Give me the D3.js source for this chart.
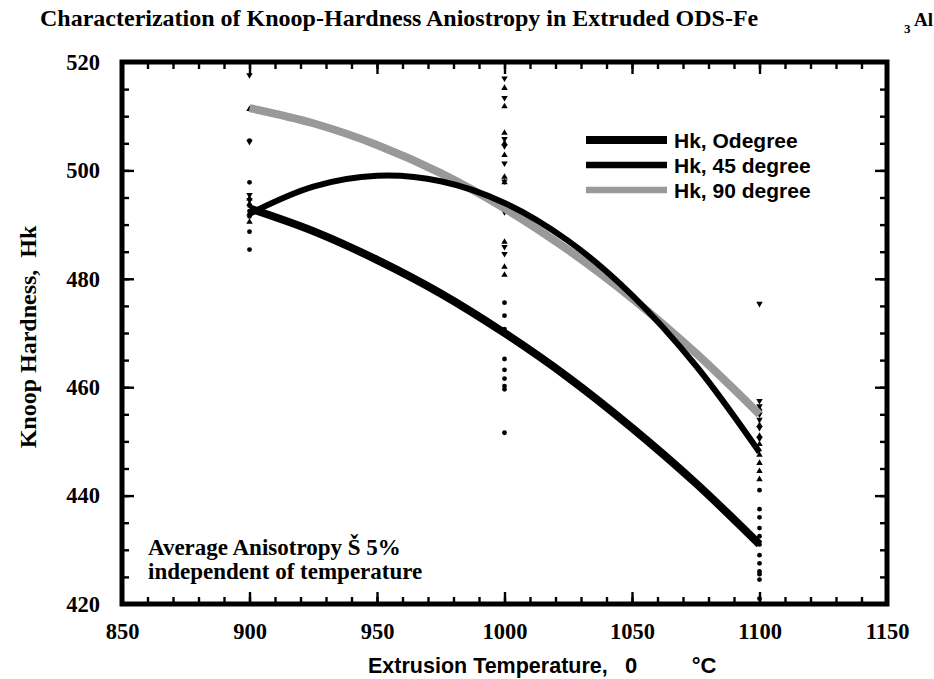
<!DOCTYPE html>
<html><head><meta charset="utf-8">
<script src="https://cdn.jsdelivr.net/npm/d3@7/dist/d3.min.js"></script>
<style>body{margin:0;background:#fff}</style></head>
<body><svg id="c" width="934" height="679"></svg>
<script>
// ---------------- data ----------------
const xTickValues = [850, 900, 950, 1000, 1050, 1100, 1150];
const yTickValues = [420, 440, 460, 480, 500, 520];
const seriesNames = ["Hk, Odegree", "Hk, 45 degree", "Hk, 90 degree"];
// fitted curves
const curveTemps = [900, 925, 950, 975, 1000, 1025, 1050, 1075, 1100];
const hk0Curve  = [493, 488.8, 483.5, 477.3, 470, 461.8, 452.5, 442.3, 431];
const hk45Curve = [492, 497, 499, 498, 494, 487, 477, 464, 448];
const hk90Curve = [511.5, 508.7, 504.7, 499.5, 493, 485.3, 476.4, 466.3, 455];
// individual measurements (markers)
const hk0At900  = [505.5, 497.8, 493.5, 492.5, 491.5, 488.7, 485.4];
const hk0At1000 = [475.6, 473.2, 470.7, 465.2, 463.2, 461.6, 460.2, 459.6, 451.6];
const hk0At1100 = [441, 437.5, 436, 434, 432.5, 431, 429, 427.5, 426, 425.5, 424.5, 421];
const hk45At900  = [511.3, 494.8, 493.8, 492, 490.5];
const hk45At1000 = [515.2, 511.8, 506.9, 505, 502.8, 498.8, 497.8, 486.8, 482.2, 480.7];
const hk45At1100 = [456, 453, 451, 449.5, 447.5, 446, 444.5, 443];
const hk90At900  = [517.6, 505.3, 495.5, 494.5];
const hk90At1000 = [517, 513.4, 505.8, 504.5, 501.3, 498, 492.3, 485.9, 484.6];
const hk90At1100 = [475.4, 457.5, 456.5, 455, 454, 452.5, 450.5];

// ---------------- layout ----------------
const svg = d3.select("#c");
const L = 122, R = 887, T = 62, B = 604;
const x = d3.scaleLinear().domain([850, 1150]).range([L, R]);
const y = d3.scaleLinear().domain([420, 520]).range([B, T]);
const serif = "'Liberation Serif','Times New Roman',serif";
const sans = "'Liberation Sans',Arial,sans-serif";

// minor ticks
const xMinor = d3.range(850, 1151, 10), yMinor = d3.range(420, 521, 5);
function axisG(axis, tx, ty) {
  const g = svg.append("g").attr("transform", `translate(${tx},${ty})`).call(axis);
  g.select(".domain").remove();
  g.selectAll("line").attr("stroke", "#000").attr("stroke-width", 2.4);
  return g;
}
axisG(d3.axisBottom(x).tickValues(xMinor).tickSize(-7).tickFormat(""), 0, B);
axisG(d3.axisTop(x).tickValues(xMinor).tickSize(-7).tickFormat(""), 0, T);
axisG(d3.axisLeft(y).tickValues(yMinor).tickSize(-7).tickFormat(""), L, 0);
axisG(d3.axisRight(y).tickValues(yMinor).tickSize(-7).tickFormat(""), R, 0);
const xb = axisG(d3.axisBottom(x).tickValues(xTickValues).tickSize(-12).tickPadding(19).tickFormat(d3.format("d")), 0, B);
axisG(d3.axisTop(x).tickValues(xTickValues).tickSize(-12).tickFormat(""), 0, T);
const yl = axisG(d3.axisLeft(y).tickValues(yTickValues).tickSize(-12).tickPadding(22).tickFormat(d3.format("d")), L, 0);
axisG(d3.axisRight(y).tickValues(yTickValues).tickSize(-12).tickFormat(""), R, 0);
[xb, yl].forEach(g => g.selectAll("text").attr("font-family", serif).attr("font-weight", "bold").attr("font-size", 22.5).attr("fill", "#000"));

// frame
svg.append("rect").attr("x", L).attr("y", T).attr("width", R - L).attr("height", B - T)
  .attr("fill", "none").attr("stroke", "#000").attr("stroke-width", 5);

// markers
const markerSets = [
  {temps: [900, 1000, 1100], vals: [hk0At900, hk0At1000, hk0At1100], shape: "circle"},
  {temps: [900, 1000, 1100], vals: [hk45At900, hk45At1000, hk45At1100], shape: "up"},
  {temps: [900, 1000, 1100], vals: [hk90At900, hk90At1000, hk90At1100], shape: "down"}
];
markerSets.forEach(s => {
  const pts = [];
  s.temps.forEach((t, i) => s.vals[i].forEach(v => pts.push([t, v])));
  const g = svg.append("g");
  if (s.shape === "circle") {
    g.selectAll("circle").data(pts).join("circle")
      .attr("cx", d => x(d[0])).attr("cy", d => y(d[1])).attr("r", 2.4).attr("fill", "#000");
  } else {
    const sym = d3.symbol().type(d3.symbolTriangle).size(18);
    g.selectAll("path").data(pts).join("path").attr("d", sym)
      .attr("transform", d => `translate(${x(d[0])},${y(d[1])}) rotate(${s.shape === "down" ? 180 : 0})`)
      .attr("fill", "#000");
  }
});

// curves
const line = d3.line().x((d, i) => x(curveTemps[i])).y(d => y(d)).curve(d3.curveCatmullRom.alpha(0.5));
const styles = [
  {data: hk0Curve, color: "#000", w: 8},
  {data: hk45Curve, color: "#000", w: 6},
  {data: hk90Curve, color: "#999", w: 8}
];
[styles[2], styles[0], styles[1]].forEach(s => {
  svg.append("path").attr("d", line(s.data)).attr("fill", "none")
    .attr("stroke", s.color).attr("stroke-width", s.w).attr("stroke-linecap", "butt");
});

// legend
const lg = svg.append("g");
seriesNames.forEach((n, i) => {
  const yy = 140 + i * 25;
  lg.append("line").attr("x1", 586).attr("x2", 667).attr("y1", yy).attr("y2", yy)
    .attr("stroke", styles[i].color).attr("stroke-width", i === 0 ? 8 : 6.5);
  lg.append("text").attr("x", 674).attr("y", yy).attr("dy", "0.36em").text(n)
    .attr("font-family", sans).attr("font-weight", "bold").attr("font-size", 21).attr("fill", "#000");
});

// annotation
svg.append("text").attr("x", 148).attr("y", 555).text("Average Anisotropy Š 5%")
  .attr("font-family", serif).attr("font-weight", "bold").attr("font-size", 23);
svg.append("text").attr("x", 148).attr("y", 579).text("independent of temperature")
  .attr("font-family", serif).attr("font-weight", "bold").attr("font-size", 23);

// title
svg.append("text").attr("x", 40).attr("y", 26).text("Characterization of Knoop-Hardness Aniostropy in Extruded ODS-Fe")
  .attr("font-family", serif).attr("font-weight", "bold").attr("font-size", 24);
svg.append("text").attr("x", 904).attr("y", 33).text("3")
  .attr("font-family", serif).attr("font-weight", "bold").attr("font-size", 13);
svg.append("text").attr("x", 933).attr("y", 26).attr("text-anchor", "end").text("Al")
  .attr("font-family", serif).attr("font-weight", "bold").attr("font-size", 19);

// axis titles
svg.append("text").attr("transform", "translate(36,337) rotate(-90)").attr("text-anchor", "middle")
  .text("Knoop Hardness,  Hk").attr("font-family", serif).attr("font-weight", "bold").attr("font-size", 24)
  .style("white-space", "pre");
svg.append("text").attr("x", 368).attr("y", 673).text("Extrusion Temperature,")
  .attr("font-family", sans).attr("font-weight", "bold").attr("font-size", 21.5);
svg.append("text").attr("x", 631).attr("y", 673).attr("text-anchor", "middle").text("0")
  .attr("font-family", sans).attr("font-weight", "bold").attr("font-size", 22);
svg.append("text").attr("x", 704).attr("y", 673).attr("text-anchor", "middle").text("°C")
  .attr("font-family", sans).attr("font-weight", "bold").attr("font-size", 22);
</script></body></html>
